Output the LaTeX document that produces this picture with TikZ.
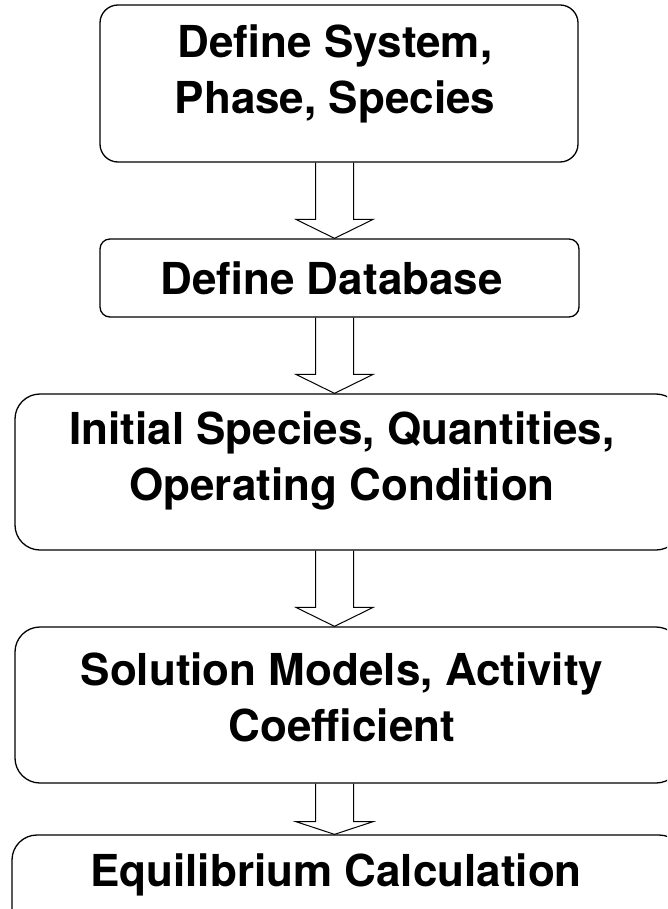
\documentclass[tikz,border=0pt]{standalone}
\usepackage{fontspec}
\setmainfont{TeX Gyre Heros}
\usetikzlibrary{calc}

\tikzset{
  stepbox/.style = {draw, line width=1.3pt, rounded corners=#1, inner sep=0pt},
  stepbox/.default = 18pt,
  steptext/.style = {align=center, inner sep=0pt, font=\fontsize{44}{56}\selectfont\bfseries},
  hollowarrow/.style = {draw, line width=1pt, line join=miter},
}
% x of the arrow shafts
\newcommand{\shaftx}{334.5pt}
\newcommand{\flowarrow}[2]{%
  \draw[hollowarrow] let \p1=(#1.south), \p2=(#2.north), \n1={0.25*(\y1-\y2)} in
    (\shaftx-19pt,\y1) -- (\shaftx-19pt,\y2+\n1) -- (\shaftx-38.5pt,\y2+\n1)
    -- (\shaftx,\y2) -- (\shaftx+38.5pt,\y2+\n1) -- (\shaftx+19pt,\y2+\n1)
    -- (\shaftx+19pt,\y1);}

\begin{document}
\begin{tikzpicture}
\useasboundingbox (0,0) rectangle (667pt,-909pt);
\clip (0,0) rectangle (667pt,-909pt);

% boxes
\node[stepbox=18pt, minimum width=478pt, minimum height=157pt] (sys) at (339pt,-83.5pt) {};
\node[stepbox=10pt, minimum width=479pt, minimum height=78pt] (db) at (339.5pt,-278pt) {};
\node[stepbox=25pt, minimum width=666pt, minimum height=156pt] (init) at (348pt,-472pt) {};
\node[stepbox=25pt, minimum width=666pt, minimum height=156pt] (sol) at (348pt,-705pt) {};
\node[stepbox=25pt, minimum width=672pt, minimum height=156pt] (eq) at (348pt,-913pt) {};

% texts
\node[steptext] (systext) at ([xshift=-4pt,yshift=10pt]sys.center) {Define System,\\Phase, Species};
\node[steptext] (dbtext) at ([xshift=-8pt]db.center) {Define Database};
\node[steptext] (inittext) at ([xshift=-6pt,yshift=11pt]init.center) {Initial Species, Quantities,\\Operating Condition};
\node[steptext] (soltext) at ([xshift=-6pt,yshift=8pt]sol.center) {Solution Models, Activity\\Coefficient};
\node[steptext] (eqtext) at ([xshift=-12pt,yshift=-41pt]eq.north) {Equilibrium Calculation};

% arrows
\flowarrow{sys}{db}
\flowarrow{db}{init}
\flowarrow{init}{sol}
\flowarrow{sol}{eq}
\end{tikzpicture}
\end{document}
